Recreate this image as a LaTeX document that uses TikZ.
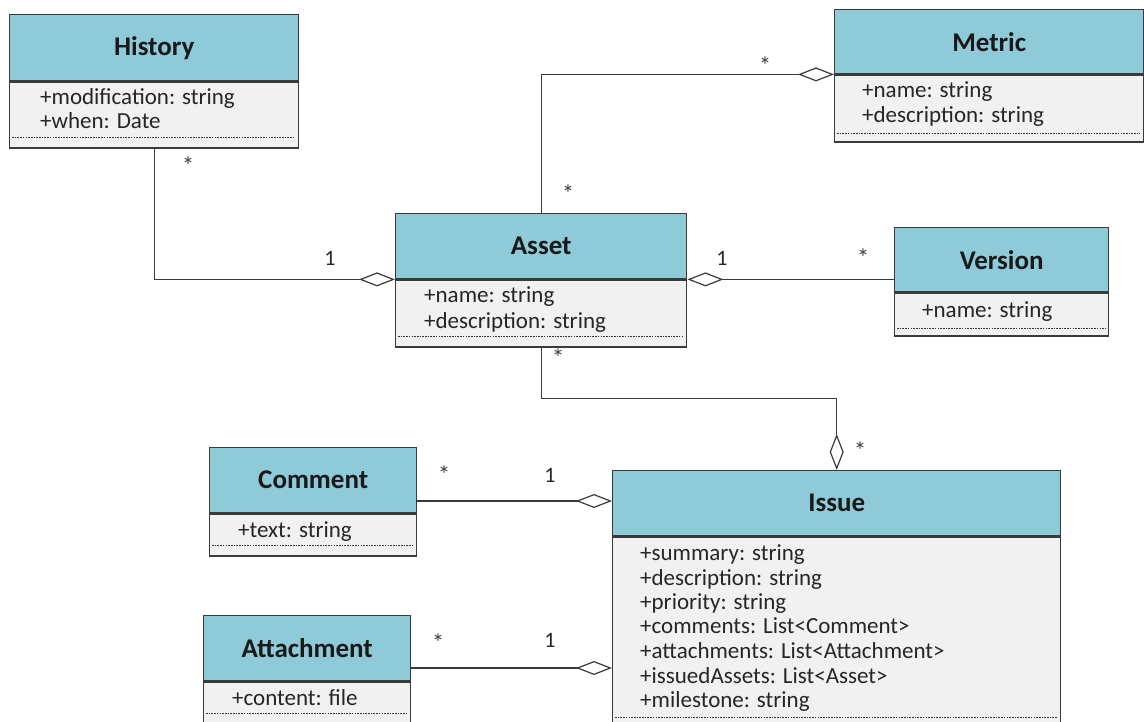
\documentclass[tikz,border=0pt]{standalone}
\usepackage{fontspec}
\setmainfont{Carlito}
\usetikzlibrary{arrows.meta,calc}
\definecolor{hdrfill}{HTML}{8FCAD9}
\definecolor{bodyfill}{HTML}{F1F1F1}
\definecolor{edge}{HTML}{3A3A3A}
\tikzset{
  hdr/.style={draw=edge, line width=1.4pt, fill=hdrfill, inner sep=0pt, anchor=north west,
    font=\bfseries\fontsize{27}{30}\selectfont, text=black!90},
  bodybox/.style={draw=edge, line width=1.4pt, fill=bodyfill, inner sep=0pt, anchor=north west},
  attr/.style={anchor=base west, inner sep=0pt, font=\fontsize{23}{24}\selectfont, text=black!85},
  dotline/.style={draw=black!80, line width=0.9pt, dash pattern=on 1.6pt off 1.1pt},
  agg/.style={draw=edge, line width=1.2pt, -{Diamond[open, length=36pt, width=14pt, line width=1.2pt, fill=white]}},
  mult/.style={inner sep=0pt, font=\fontsize{22}{24}\selectfont, text=black!85},
  star/.style={inner sep=0pt, font=\fontsize{25}{26}\selectfont, text=black!75}
}
\begin{document}
\begin{tikzpicture}[x=1pt,y=-1pt]
\useasboundingbox (0,0) rectangle (1144,722);
\clip (0,0) rectangle (1144,722);
\fill[white] (0,0) rectangle (1144,722);

% History
\node[hdr, minimum width=289pt, minimum height=66pt] (history) at (9,14) {History};
\node[bodybox, minimum width=289pt, minimum height=66pt] (historyb) at (history.south west) {};
\node[attr] (h1) at (40,105) {+modification: string};
\node[attr] (h2) at (40,129) {+when: Date};
\draw[dotline] (12,137) -- (295,137);

% Metric
\node[hdr, minimum width=309pt, minimum height=64pt] (metric) at (834,9) {Metric};
\node[bodybox, minimum width=309pt, minimum height=67pt] (metricb) at (metric.south west) {};
\node[attr] (m1) at (862,98) {+name: string};
\node[attr] (m2) at (862,123) {+description: string};
\draw[dotline] (837,133) -- (1140,133);

% Asset
\node[hdr, minimum width=291pt, minimum height=65pt] (asset) at (395,213) {Asset};
\node[bodybox, minimum width=291pt, minimum height=67pt] (assetb) at (asset.south west) {};
\node[attr] (a1) at (424,303) {+name: string};
\node[attr] (a2) at (424,328) {+description: string};
\draw[dotline] (398,336) -- (683,336);

% Version
\node[hdr, minimum width=214pt, minimum height=64pt] (version) at (894,227) {Version};
\node[bodybox, minimum width=214pt, minimum height=43pt] (versionb) at (version.south west) {};
\node[attr] (v1) at (922,317) {+name: string};
\draw[dotline] (897,328) -- (1105,328);

% Comment
\node[hdr, minimum width=207pt, minimum height=65pt] (comment) at (209,447) {Comment};
\node[bodybox, minimum width=207pt, minimum height=42pt] (commentb) at (comment.south west) {};
\node[attr] (c1) at (238,537) {+text: string};
\draw[dotline] (212,545) -- (413,545);

% Attachment
\node[hdr, minimum width=207pt, minimum height=65pt] (attachment) at (203,615) {Attachment};
\node[bodybox, minimum width=207pt, minimum height=60pt] (attachmentb) at (attachment.south west) {};
\node[attr] (t1) at (232,705) {+content: file};
\draw[dotline] (206,713) -- (407,713);

% Issue
\node[hdr, minimum width=448pt, minimum height=65pt] (issue) at (612,470) {Issue};
\node[bodybox, minimum width=448pt, minimum height=210pt] (issueb) at (issue.south west) {};
\node[attr] (i1) at (640,560) {+summary: string};
\node[attr] (i2) at (640,585) {+description: string};
\node[attr] (i3) at (640,609) {+priority: string};
\node[attr] (i4) at (640,633) {+comments: List<Comment>};
\node[attr] (i5) at (640,658) {+attachments: List<Attachment>};
\node[attr] (i6) at (640,683) {+issuedAssets: List<Asset>};
\node[attr] (i7) at (640,707) {+milestone: string};
\draw[dotline] (615,717) -- (1057,717);

% connectors
\coordinate (issueC) at (612,501);
\coordinate (issueA) at (612,668);
\draw[agg] (historyb.south) |- (asset.south west);
\draw[agg] (asset.north) |- (metric.south west);
\draw[agg] (version.west |- asset.south east) -- (asset.south east);
\draw[agg] (assetb.south) -- ++(0,51) -| (issue.north);
\draw[agg] (comment.east |- issueC) -- (issueC);
\draw[agg] (attachment.east |- issueA) -- (issueA);

% multiplicities
\node[star] (s1) at (188,166) {*};
\node[mult] (n1) at (330,258) {1};
\node[star] (s2) at (568,194) {*};
\node[star] (s3) at (765,66) {*};
\node[mult] (n2) at (722,258) {1};
\node[star] (s4) at (863,258) {*};
\node[star] (s5) at (558,358) {*};
\node[star] (s6) at (860,451) {*};
\node[star] (s7) at (444,475) {*};
\node[mult] (n3) at (550,475) {1};
\node[star] (s8) at (438,643) {*};
\node[mult] (n4) at (550,640) {1};
\end{tikzpicture}
\end{document}
